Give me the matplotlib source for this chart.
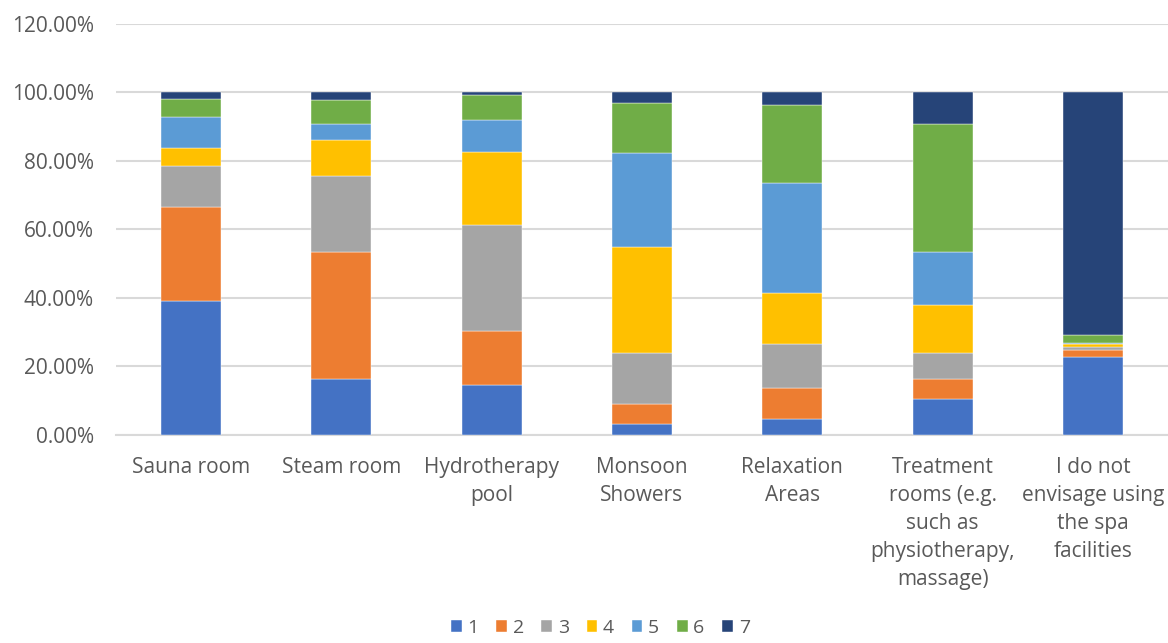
import numpy as np
import matplotlib.pyplot as plt
from matplotlib.ticker import FuncFormatter

plt.rcParams['font.family'] = ['Open Sans', 'DejaVu Sans']

categories = ['Sauna room', 'Steam room', 'Hydrotherapy\npool', 'Monsoon\nShowers',
              'Relaxation\nAreas', 'Treatment\nrooms (e.g.\nsuch as\nphysiotherapy,\nmassage)',
              'I do not\nenvisage using\nthe spa\nfacilities']

# share of answers (%) for each rating 1..7
r1 = [39.1, 16.3, 14.5, 3.1, 4.6, 10.4, 22.9]
r2 = [27.5, 37.2, 15.8, 5.9, 9.2, 5.9, 1.9]
r3 = [11.8, 22.0, 30.9, 15.0, 12.8, 7.7, 0.8]
r4 = [5.5, 10.6, 21.3, 30.9, 15.0, 14.0, 1.0]
r5 = [8.9, 4.8, 9.4, 27.5, 32.1, 15.5, 0.3]
r6 = [5.4, 6.9, 7.4, 14.4, 22.7, 37.4, 2.4]
r7 = [1.8, 2.2, 0.7, 3.2, 3.6, 9.1, 70.7]

series = [r1, r2, r3, r4, r5, r6, r7]
labels = ['1', '2', '3', '4', '5', '6', '7']
colors = ['#4472c4', '#ed7d31', '#a5a5a5', '#ffc000', '#5b9bd5', '#70ad47', '#264478']

fig = plt.figure(figsize=(11.68, 6.43), dpi=100)
ax = fig.add_axes([0.0993, 0.3235, 0.9007, 0.6392])

x = np.arange(len(categories))
bottom = np.zeros(len(categories))
for vals, lab, col in zip(series, labels, colors):
    v = np.array(vals) / 100
    ax.bar(x, v, width=0.4, bottom=bottom, color=col, label=lab, zorder=3,
           edgecolor='white', linewidth=0.3)
    bottom += v

ax.set_xlim(-0.5, len(categories) - 0.5)
ax.set_ylim(0, 1.2)
ax.set_yticks(np.arange(0, 1.21, 0.2))
ax.yaxis.set_major_formatter(FuncFormatter(lambda v, p: f'{v*100:.2f}%'))
ax.grid(axis='y', color='#d9d9d9', linewidth=1.5, zorder=0)
for s in ['top', 'right', 'left']:
    ax.spines[s].set_visible(False)
ax.spines['bottom'].set_color('#d9d9d9')
ax.spines['bottom'].set_linewidth(1.5)
ax.tick_params(axis='both', length=0, labelsize=15, labelcolor='#595959')
ax.tick_params(axis='y', pad=16)
ax.tick_params(axis='x', pad=16)
ax.set_xticks(x)
ax.set_xticklabels(categories, linespacing=1.43)

fig.legend(loc='lower center', ncol=7, frameon=False, bbox_to_anchor=(0.514, -0.018),
           fontsize=14, labelcolor='#595959', handlelength=0.55, handleheight=0.55,
           handletextpad=0.3, columnspacing=0.9)

fig.savefig('out.png', dpi=100)
